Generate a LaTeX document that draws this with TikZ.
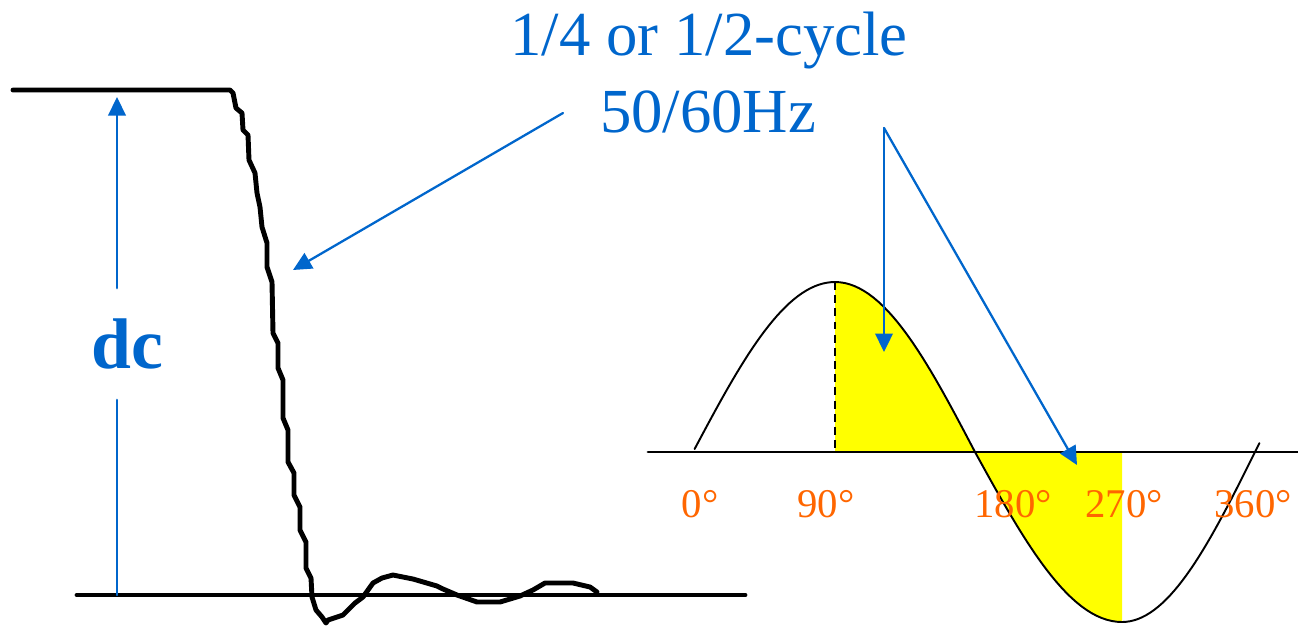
\documentclass[tikz,border=0pt]{standalone}
\usepackage{fontspec}
\setmainfont{Liberation Serif}
\usetikzlibrary{arrows.meta}

\definecolor{callblue}{RGB}{0,102,204}
\definecolor{degorange}{RGB}{255,102,0}
\definecolor{hiyellow}{RGB}{255,255,0}

\begin{document}
\begin{tikzpicture}[
  x=0.02cm, y=-0.02cm,
    line cap=round,
    line join=round,
    signal/.style={line width=2.8pt},
    wave/.style={line width=1.1pt},
    zeroline/.style={line width=1.6pt},
    callout/.style={callblue, line width=1.3pt},
    callarrow/.style={callblue, line width=1.3pt,
    -{Triangle[length=0.37cm, width=0.35cm]}},
    title/.style={callblue, anchor=base, inner sep=0pt,
    font=\fontsize{35.7}{42}\selectfont},
    deglabel/.style={degorange, anchor=base, inner sep=0pt,
    font=\fontsize{23.2}{28}\selectfont}
  ]

\useasboundingbox (0,0) rectangle (1298,627);

% quarter-wave widths (pixels) of the sine on the right
\def\xa{693}
\def\xb{835}
\def\xc{975}
\def\xd{1122}
\def\xe{1255}
\def\amp{170}
\def\yz{452}

% ============================================================
% LEFT: dc step with ringing
% ============================================================
\draw[signal] plot coordinates {
  (13,90) (222,90) (230,90) (233,93) (236,108) (242,113) (243,130)
  (248,135) (249,160) (255,173) (257,193) (260,207) (262,227)
  (267,243) (267,267) (272,282) (273,333) (278,343) (278,368)
  (283,380) (283,418) (288,430) (288,462) (294,473) (294,495)
  (300,507) (300,530) (306,542) (306,568) (311,578) (312,597)
  (316,610) (322,617) (326,623) (328,620) (343,615) (355,603)
  (363,597) (373,583) (382,578) (393,575) (413,579) (437,586)
  (443,589) (457,595) (477,602) (500,602) (520,596) (533,590)
  (545,583) (573,583) (590,587) (597,592)};

\coordinate (lowL) at (77,595);
\coordinate (lowR) at (745,595);
\draw[signal] (lowL) -- (lowR);

% dc magnitude arrow, broken round the label
\coordinate (dcbot) at (117,595);
\coordinate (dctop) at (117,97);
\node[callblue, inner sep=0pt, minimum height=2.22cm,
  font=\bfseries\fontsize{40.8}{49}\selectfont] (dc) at (127,344) {dc};
\draw[callout] (dcbot) -- (dc.south -| dcbot);
\draw[callarrow] (dc.north -| dctop) -- (dctop);

% ============================================================
% TOP: annotation
% ============================================================
\node[title] (cycle) at (709,55) {1/4 or 1/2-cycle};
\node[title] (freq) at (708,132) {50/60Hz};

\coordinate (edgefrom) at (563,113);
\coordinate (edgeto) at (293,270);
\draw[callarrow] (edgefrom) -- (edgeto);

% ============================================================
% RIGHT: one cycle of the supply voltage
% ============================================================
% shaded part from 90 to 270 degrees
\fill[hiyellow] (\xb,\yz)
  -- plot[domain=90:180, samples=30]
     ({\xb+(\xc-\xb)*(\x-90)/90}, {\yz-\amp*sin(\x)})
  -- plot[domain=180:270, samples=30]
     ({\xc+(\xd-\xc)*(\x-180)/90}, {\yz-\amp*sin(\x)})
  -- (\xd,\yz) -- cycle;

\coordinate (axisL) at (648,\yz);
\coordinate (axisR) at (1298,\yz);
\draw[zeroline] (axisL) -- (axisR);

\coordinate (peak) at (\xb,{\yz-\amp});
\draw[wave, dash pattern=on 4.5pt off 3pt, line cap=butt]
  (peak) -- (\xb,\yz);

\draw[wave]
  plot[domain=1:90, samples=35]
     ({\xa+(\xb-\xa)*\x/90}, {\yz-\amp*sin(\x)})
  -- plot[domain=90:180, samples=30]
     ({\xb+(\xc-\xb)*(\x-90)/90}, {\yz-\amp*sin(\x)})
  -- plot[domain=180:270, samples=30]
     ({\xc+(\xd-\xc)*(\x-180)/90}, {\yz-\amp*sin(\x)})
  -- plot[domain=270:363, samples=35]
     ({\xd+(\xe-\xd)*(\x-270)/90}, {\yz-\amp*sin(\x)});

% degree marks
\foreach \ang/\xpos in {0/700, 90/826, 180/1013, 270/1124, 360/1253}
  \node[deglabel] (deg\ang) at (\xpos,517) {\ang°};

% arrows into the shaded quarter and half cycle
\coordinate (fork) at (884,128);
\coordinate (quarter) at (884,352);
\coordinate (half) at (1077,465);
\draw[callarrow] (fork) -- (quarter);
\draw[callarrow] (fork) -- (half);

\end{tikzpicture}
\end{document}
